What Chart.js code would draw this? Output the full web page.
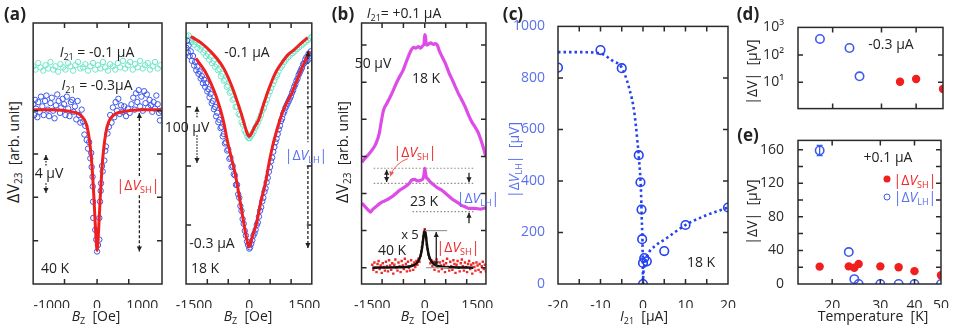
<!DOCTYPE html>
<html><head><meta charset="utf-8">
<script src="https://cdn.jsdelivr.net/npm/chart.js@4.4.0/dist/chart.umd.min.js"></script>
<style>
html,body{margin:0;padding:0;background:#fff;}
#fig{position:relative;width:954px;height:326px;overflow:hidden;font-family:'Open Sans',sans-serif;color:#222;}
canvas{position:absolute;}
.t{position:absolute;white-space:nowrap;transform:translate(-50%,-50%);font-size:14px;line-height:1;z-index:5;}
.t sub{font-size:9px;vertical-align:-3px;line-height:0;}
.b{font-weight:bold;font-size:17px;}
.red{color:#f02828}.lb{color:#5a70f2}
.rot{transform:translate(-50%,-50%) rotate(-90deg);}
.dot{position:absolute;width:7px;height:7px;border-radius:50%;transform:translate(-50%,-50%);z-index:5;box-sizing:border-box;}
</style></head><body><div id="fig"></div>
<script>
// ---------- DATA ----------
// (a) left, 40 K : B [Oe], V [uV]
const a1Cyan = [[-1410,20.1],[-1360,19.8],[-1300,20.4],[-1250,20.0],[-1190,19.7],[-1140,20.2],[-1080,19.9],[-1030,20.5],[-970,19.8],[-920,20.1],[-860,19.6],[-810,20.3],[-750,20.0],[-700,19.8],[-640,20.4],[-590,20.1],[-530,19.7],[-480,20.2],[-420,20.5],[-370,19.9],[-310,20.0],[-260,20.3],[-200,19.7],[-150,20.1],[-90,20.4],[-40,19.8],[20,20.2],[70,19.9],[130,20.5],[180,20.0],[240,19.7],[290,20.3],[350,20.1],[400,19.8],[460,20.4],[510,20.0],[570,20.6],[620,19.9],[680,20.2],[730,20.5],[790,19.8],[840,20.3],[900,20.0],[950,20.6],[1010,19.9],[1060,20.2],[1120,20.4],[1170,19.8],[1230,20.1],[1280,20.5],[1340,19.9],[1400,20.2]];
const a1Blue = [[-1410,16.6],[-1390,15.6],[-1370,17.0],[-1350,16.2],[-1320,15.4],[-1300,16.8],[-1270,15.9],[-1240,17.3],[-1210,16.4],[-1180,15.6],[-1150,16.9],[-1120,17.4],[-1090,16.1],[-1060,15.5],[-1030,16.7],[-1000,17.2],[-970,16.0],[-940,15.3],[-910,16.5],[-880,17.5],[-850,16.9],[-820,15.8],[-790,16.3],[-760,17.1],[-730,16.6],[-700,15.6],[-670,17.3],[-640,16.2],[-610,15.5],[-580,16.8],[-550,17.0],[-520,15.9],[-490,16.4],[-460,15.2],[-430,16.9],[-400,15.6],[-370,14.9],[-340,16.1],[-310,15.0],[-280,13.8],[-260,14.6],[-230,13.3],[-200,12.5],[-175,13.1],[-150,11.6],[-130,12.1],[-120,10.8],[-100,9.9],[-95,9.0],[-90,7.6],[-85,6.1],[-40,5.0],[-20,4.1],[0,3.0],[20,3.6],[50,4.1],[50,6.1],[65,7.6],[80,8.6],[87,9.3],[110,10.9],[124,10.4],[160,11.4],[180,12.3],[196,12.7],[230,13.9],[260,14.5],[290,15.6],[320,14.9],[350,16.3],[380,15.4],[410,16.8],[440,16.0],[470,17.1],[500,15.7],[530,16.5],[560,15.9],[600,16.4],[640,15.5],[680,16.2],[720,15.8],[760,16.6],[800,17.2],[830,16.1],[860,17.6],[890,16.8],[920,17.9],[950,16.4],[980,17.3],[1010,16.0],[1040,17.8],[1070,16.7],[1100,17.5],[1130,16.3],[1160,17.0],[1190,16.5],[1220,15.9],[1250,16.8],[1280,16.2],[1310,17.4],[1340,16.6],[1370,15.8],[1390,15.1],[1410,16.0]];
const a1Fit = [[-1420,16.1],[-1000,16.08],[-700,16.0],[-500,15.85],[-400,15.7],[-320,15.4],[-260,15.0],[-210,14.3],[-170,13.3],[-130,11.8],[-100,10.1],[-70,8.0],[-45,5.9],[-25,4.3],[-10,3.4],[0,3.1],[10,3.4],[25,4.3],[45,5.9],[70,8.0],[100,10.1],[130,11.8],[170,13.3],[210,14.3],[260,15.0],[320,15.4],[400,15.7],[500,15.85],[700,16.0],[1000,16.08],[1420,16.1]];

// (a) right, 18 K
const a2Cyan = [[-1710,420],[-1680,412],[-1650,421],[-1610,413],[-1570,409],[-1530,415],[-1490,405],[-1450,410],[-1410,400],[-1370,406],[-1330,397],[-1290,402],[-1250,392],[-1210,396],[-1170,386],[-1130,390],[-1090,380],[-1050,385],[-1010,374],[-970,378],[-930,368],[-890,372],[-850,362],[-810,364],[-770,352],[-730,356],[-690,344],[-650,346],[-610,334],[-570,336],[-530,324],[-490,326],[-450,312],[-410,314],[-370,300],[-330,300],[-290,288],[-250,286],[-210,274],[-170,270],[-130,260],[-90,256],[-50,250],[-20,247],[10,247],[40,250],[80,254],[120,258],[160,264],[200,268],[240,274],[280,280],[320,286],[360,294],[400,298],[440,306],[480,312],[520,320],[560,326],[600,332],[640,338],[680,344],[720,350],[760,354],[800,360],[850,366],[900,370],[950,376],[1000,380],[1060,384],[1120,388],[1180,391],[1240,394],[1300,398],[1360,401],[1420,404],[1480,407],[1540,410],[1600,413],[1660,416],[1710,419]];
const a2Blue = [[-1710,400],[-1690,412],[-1670,392],[-1650,404],[-1620,386],[-1590,394],[-1560,378],[-1530,386],[-1500,370],[-1470,376],[-1440,362],[-1410,368],[-1380,356],[-1350,360],[-1320,348],[-1290,352],[-1260,340],[-1230,346],[-1200,334],[-1170,340],[-1140,326],[-1110,330],[-1080,316],[-1050,322],[-1020,306],[-990,310],[-960,296],[-930,300],[-900,284],[-870,290],[-840,274],[-810,278],[-780,264],[-750,266],[-720,250],[-690,254],[-660,238],[-630,240],[-600,226],[-570,228],[-540,212],[-510,214],[-480,198],[-450,200],[-420,186],[-390,184],[-360,168],[-330,168],[-300,152],[-270,146],[-240,132],[-210,124],[-180,110],[-150,102],[-120,90],[-90,82],[-60,72],[-30,66],[0,60],[25,62],[55,68],[85,74],[115,82],[145,86],[175,92],[205,100],[235,104],[265,114],[295,124],[325,130],[355,140],[385,146],[415,156],[445,162],[475,172],[505,180],[535,190],[565,198],[595,208],[625,214],[655,224],[685,232],[715,240],[745,246],[775,254],[805,262],[835,268],[865,276],[895,280],[925,288],[955,292],[985,298],[1015,302],[1045,306],[1075,310],[1105,314],[1135,318],[1165,324],[1195,328],[1225,334],[1255,338],[1285,344],[1315,348],[1345,354],[1375,358],[1405,362],[1435,366],[1465,372],[1495,374],[1525,380],[1555,384],[1585,378],[1615,390],[1645,382],[1675,394],[1705,386]];
const a2FitCyan = [[-1590,419],[-1300,408],[-1053,394],[-880,382],[-700,366],[-560,348],[-437,329],[-320,308],[-218,289],[-130,270],[-60,256],[0,250],[60,255],[130,264],[263,279],[400,306],[526,329],[700,356],[879,374],[1050,388],[1229,397],[1400,407],[1590,417]];
const a2FitBlue = [[-1450,382],[-1200,360],[-1036,339],[-900,318],[-773,293],[-680,270],[-597,243],[-490,215],[-379,186],[-270,148],[-158,107],[-80,80],[-30,66],[0,63],[30,66],[80,79],[192,101],[320,140],[455,175],[540,205],[631,232],[760,262],[900,290],[1030,308],[1157,323],[1300,345],[1450,368],[1638,394]];

// (b) I21 = +0.1 uA
const b18K = [[-1800,142],[-1700,148],[-1600,153],[-1500,159],[-1400,167],[-1300,181],[-1250,195],[-1180,212],[-1100,220],[-1000,229],[-900,239],[-800,250],[-700,259],[-620,266],[-540,276],[-450,287],[-380,294],[-320,297],[-250,296],[-180,298],[-120,296],[-60,299],[-20,302],[0,314],[20,312],[50,300],[100,301],[170,303],[240,301],[300,302],[359,300],[420,292],[500,284],[594,275],[700,262],[800,252],[874,244],[950,236],[1050,227],[1154,217],[1250,206],[1340,197],[1434,190],[1520,183],[1600,173],[1700,158],[1750,149]];
const b23K = [[-1800,87],[-1700,82],[-1600,77],[-1555,75],[-1500,78],[-1400,82],[-1300,86],[-1200,89],[-1100,91],[-995,94],[-900,97],[-800,101],[-700,105],[-600,108],[-500,111],[-434,114],[-380,118],[-300,119],[-200,117],[-106,118],[-50,120],[-20,126],[0,134],[20,128],[50,121],[78,120],[150,116],[250,112],[350,108],[499,104],[600,100],[700,96],[800,92],[900,89],[966,87],[1050,84],[1154,82],[1250,80],[1434,80],[1600,79],[1700,80],[1750,81]];
const b40K = [[-1500,4],[-1470,-3],[-1440,7],[-1410,0],[-1380,-6],[-1350,5],[-1320,9],[-1290,-2],[-1260,3],[-1230,-7],[-1200,6],[-1170,1],[-1140,-4],[-1110,8],[-1080,2],[-1050,-5],[-1020,10],[-990,3],[-960,-3],[-930,6],[-900,-8],[-870,4],[-840,11],[-810,0],[-780,-4],[-750,7],[-720,2],[-690,-6],[-660,9],[-630,3],[-600,-2],[-570,12],[-540,5],[-510,-5],[-480,8],[-450,0],[-420,-4],[-390,10],[-360,4],[-330,-3],[-300,7],[-270,1],[-240,9],[-210,4],[-180,12],[-150,8],[-120,16],[-100,22],[-80,28],[-60,34],[-40,42],[-20,48],[0,52],[20,46],[40,40],[60,31],[80,25],[100,18],[130,13],[160,6],[190,10],[220,2],[250,8],[280,-3],[310,6],[340,11],[370,1],[400,-5],[430,7],[460,3],[490,-2],[520,9],[550,4],[580,-6],[610,6],[640,12],[670,1],[700,-4],[730,8],[760,2],[790,-3],[820,10],[850,5],[880,-7],[910,4],[940,9],[970,0],[1000,-5],[1030,6],[1060,11],[1090,2],[1120,-4],[1150,7],[1180,1],[1210,-6],[1240,5],[1270,9],[1300,-2],[1330,4],[1360,-8],[1390,6],[1420,1],[1450,-4],[1480,7],[1510,3],[1540,-3],[1570,5],[1600,-6],[1630,2],[1660,8],[1690,-2],[1720,4],[1750,-5]];
const b40KFit = [[-1500,0],[-800,0.5],[-400,2],[-250,5],[-150,12],[-100,20],[-60,32],[-30,44],[0,50],[30,44],[60,32],[100,20],[150,12],[250,5],[400,2],[800,0.5],[1390,0]];

// (c) |dV_LH| vs I21 at 18 K
const cPts = [[-20,840],[-10,908],[-5,838],[-1,500],[-0.6,395],[-0.35,289],[-0.2,174],[0.3,101],[0,82],[0.9,88],[0,0],[5,128],[10,229],[20,297]];
const cFitNeg = [[-20,900],[-15,900],[-10,895],[-7.1,866],[-5,840],[-3.2,757],[-2.06,668],[-1.3,552],[-0.9,476],[-0.5,373],[-0.3,258],[-0.1,143],[0,0]];
const cFitPos = [[0,0],[0.05,28],[0.4,79],[1.0,111],[3.0,150],[5.3,175],[10,229],[14.6,265],[20,297]];

// (d) -0.3 uA, (e) +0.1 uA : temperature [K]
const dLH = [[18,380],[23,178],[25,16.6]];
const dSH = [[35,10.5],[40,13.2],[50,5.7]];
const eSH = [[18,20.7],[23,21],[24.1,19.3],[25,23.9],[30,21],[35,20],[40,15.3],[50,10.4]];
const eLH = [[18,159],[23,38],[24.1,5.8],[25,0],[30,0],[35,0],[40,0],[50,0]];
const eLHerr = [[18,153,165]];

// tick labels
const tA1 = [-1000,0,1000], tA2 = [-1500,0,1500], tC_x = [-20,-10,0,10,20], tC_y = [0,200,400,600,800,1000];
const tT = [20,30,40,50], tD_y = [10,100,1000], tE_y = [0,40,80,120,160];

// ---------- helpers ----------
const BLUE='rgb(62,88,236)', CYAN='rgb(112,230,200)', RED='rgb(240,32,32)', MAG='rgb(222,76,232)', CBLUE='rgb(36,66,240)';
Chart.defaults.font.family="'Open Sans', sans-serif";
const fig=document.getElementById('fig');
const P=a=>a.map(([x,y])=>({x,y}));
function openC(arr,col,r,bw){return {data:P(arr),pointStyle:'circle',pointRadius:r,pointBorderWidth:bw||1,pointBorderColor:col,pointBackgroundColor:'rgba(0,0,0,0)',showLine:false};}
function fillC(arr,col,r,style){return {data:P(arr),pointStyle:style||'circle',pointRadius:r,pointBorderWidth:0,pointBorderColor:col,pointBackgroundColor:col,showLine:false};}
function ln(arr,col,w,dash){return {data:P(arr),showLine:true,borderColor:col,borderWidth:w,pointRadius:0,borderDash:dash||[],cubicInterpolationMode:'monotone',fill:false};}
function sc(type,min,max,ticks,o){o=o||{};return {type,min,max,grid:{display:false},border:{display:false},
  afterBuildTicks:s=>{s.ticks=ticks.map(v=>({value:v}));},
  ticks:{display:o.show!==false,color:o.color||'#2a2a2a',font:{size:14},padding:o.pad||6,maxRotation:0,autoSkip:false,callback:o.cb||(v=>String(v))}};}
function head(ctx,x,y,dir){ctx.beginPath();ctx.moveTo(x,y);ctx.lineTo(x-2.6,y-dir*5);ctx.lineTo(x+2.6,y-dir*5);ctx.closePath();ctx.fill();}
function headA(ctx,x,y,a){ctx.save();ctx.translate(x,y);ctx.rotate(a);ctx.beginPath();ctx.moveTo(0,0);ctx.lineTo(-5,-2.5);ctx.lineTo(-5,2.5);ctx.closePath();ctx.fill();ctx.restore();}
function drawAnn(ch,items){const ctx=ch.ctx,x=ch.scales.x,y=ch.scales.y;
 items.forEach(it=>{ctx.save();ctx.strokeStyle=ctx.fillStyle=it.c||'#222';ctx.lineWidth=it.w||1.3;ctx.setLineDash(it.d||[]);
  if(it.k==='v'){const px=x.getPixelForValue(it.x),a=y.getPixelForValue(it.y1),b=y.getPixelForValue(it.y2);
    ctx.beginPath();ctx.moveTo(px,a);ctx.lineTo(px,b);ctx.stroke();ctx.setLineDash([]);
    if(it.h1)head(ctx,px,a,Math.sign(a-b));if(it.h2)head(ctx,px,b,Math.sign(b-a));}
  else if(it.k==='h'){const py=y.getPixelForValue(it.y),a=x.getPixelForValue(it.x1),b=x.getPixelForValue(it.x2);ctx.beginPath();ctx.moveTo(a,py);ctx.lineTo(b,py);ctx.stroke();}
  else if(it.k==='q'){const p=it.p.map(([u,v])=>[x.getPixelForValue(u),y.getPixelForValue(v)]);ctx.beginPath();ctx.moveTo(p[0][0],p[0][1]);ctx.quadraticCurveTo(p[1][0],p[1][1],p[2][0],p[2][1]);ctx.stroke();ctx.setLineDash([]);headA(ctx,p[2][0],p[2][1],Math.atan2(p[2][1]-p[1][1],p[2][0]-p[1][0]));}
  else if(it.k==='e'){const px=x.getPixelForValue(it.x),a=y.getPixelForValue(it.y1),b=y.getPixelForValue(it.y2);ctx.beginPath();ctx.moveTo(px,a);ctx.lineTo(px,b);ctx.moveTo(px-3,a);ctx.lineTo(px+3,a);ctx.moveTo(px-3,b);ctx.lineTo(px+3,b);ctx.stroke();}
  ctx.restore();});}
function drawFrame(ch,fr){const ctx=ch.ctx,a=ch.chartArea,L=5;ctx.save();ctx.strokeStyle='#2a2a2a';ctx.lineWidth=1.5;ctx.setLineDash([]);
  ctx.strokeRect(a.left,a.top,a.right-a.left,a.bottom-a.top);ctx.beginPath();
  (fr.xt||[]).forEach(v=>{const p=ch.scales.x.getPixelForValue(v);ctx.moveTo(p,a.bottom);ctx.lineTo(p,a.bottom-L);ctx.moveTo(p,a.top);ctx.lineTo(p,a.top+L);});
  (fr.yt||[]).forEach(v=>{const p=ch.scales.y.getPixelForValue(v);ctx.moveTo(a.left,p);ctx.lineTo(a.left+L,p);ctx.moveTo(a.right,p);ctx.lineTo(a.right-L,p);});
  ctx.stroke();ctx.restore();}
function mk(box,pad,datasets,sx,sy,fr,ann){
  const [L,T,R,B]=box,[pl,pt,pr,pb]=pad,w=R-L+pl+pr,h=B-T+pt+pb;
  const c=document.createElement('canvas');c.width=w;c.height=h;c.style.left=(L-pl)+'px';c.style.top=(T-pt)+'px';c.style.width=w+'px';c.style.height=h+'px';fig.appendChild(c);
  sx.afterFit=s=>{s.height=pb;};sy.afterFit=s=>{s.width=pl;};
  return new Chart(c,{type:'scatter',data:{datasets},options:{responsive:false,animation:false,devicePixelRatio:1,
    layout:{padding:{left:0,top:pt,right:pr,bottom:0},autoPadding:false},
    plugins:{legend:{display:false},tooltip:{enabled:false}},scales:{x:sx,y:sy}},
    plugins:[{id:'deco',afterDatasetsDraw(ch){drawAnn(ch,ann||[]);},afterDraw(ch){drawFrame(ch,fr||{});}}]});
}
function T(html,cx,cy,cls,style){const d=document.createElement('div');d.className='t '+(cls||'');d.innerHTML=html;d.style.left=cx+'px';d.style.top=cy+'px';if(style)d.style.cssText+=style;fig.appendChild(d);return d;}

// ---------- charts ----------
// (a) left
mk([31,23,162,284],[4,8,6,24],
  [ln(a1Fit,RED,3),openC(a1Blue,BLUE,2.7),openC(a1Cyan,CYAN,2.7)],
  sc('linear',-1413,1435,tA1),sc('linear',0,24.1,[],{show:false}),
  {xt:[-720,0,700],yt:[4,8,12,16]},
  [{k:'v',x:-1130,y1:11.9,y2:10.9,d:[1.5,1.5],h1:1},{k:'v',x:-1130,y1:9.3,y2:8.4,d:[1.5,1.5],h2:1},
   {k:'v',x:935,y1:15.8,y2:9.9,d:[3,2],h1:1},{k:'v',x:935,y1:8.2,y2:3.0,d:[3,2],h2:1}]);
// (a) right
mk([183,23,313,284],[14,8,14,24],
  [ln(a2FitBlue,RED,3),ln(a2FitCyan,RED,3),openC(a2Blue,BLUE,2.7),openC(a2Cyan,CYAN,2.7)],
  sc('linear',-1718,1703,tA2),sc('linear',0,442,[],{show:false}),
  {xt:[-1140,-570,0,570,1140],yt:[100,200,300]},
  [{k:'v',x:-1421,y1:300,y2:282,d:[1.5,1.5],h1:1},{k:'v',x:-1421,y1:252,y2:205,d:[1.5,1.5],h2:1},
   {k:'v',x:1597,y1:394,y2:240,d:[3,2],h1:1},{k:'v',x:1597,y1:200,y2:61,d:[3,2],h2:1}]);
// (b)
mk([361,23,488,284],[14,8,12,24],
  [ln(b40KFit,'#111',2.5),fillC(b40K,'rgb(240,40,40)',1.7,'rect'),ln(b18K,MAG,3.2),ln(b23K,MAG,3.2)],
  sc('linear',-1807,1751,tA2),sc('linear',-22,329.8,[],{show:false}),
  {xt:[-1220,-610,0,600,1200],yt:[0,50,100,150,200,250,300]},
  [{k:'h',y:134,x1:-1460,x2:1390,d:[1.5,2],c:'#8a8a8a',w:1.2},{k:'h',y:113.7,x1:-1460,x2:1390,d:[1.5,2],c:'#8a8a8a',w:1.2},
   {k:'h',y:75.5,x1:-350,x2:1390,d:[1.5,2],c:'#8a8a8a',w:1.2},
   {k:'v',x:-1090,y1:132,y2:115.5,h1:1,h2:1},{k:'v',x:1266,y1:128,y2:115,h2:1},{k:'v',x:1266,y1:60,y2:74,h2:1},
   {k:'h',y:50,x1:0,x2:640,c:'#999',w:1.2},{k:'h',y:0,x1:40,x2:680,c:'#999',w:1.2},
   {k:'v',x:330,y1:2,y2:48,h1:1,h2:1},
   {k:'q',p:[[-482,147],[-854,141],[-990,123]],c:'rgb(240,90,90)',w:1}]);
// (c)
mk([558,23,730,284],[45,10,12,24],
  [openC(cPts,CBLUE,4.3,1.6),ln(cFitNeg,CBLUE,2.6,[2.5,3]),ln(cFitPos,CBLUE,2.6,[2.5,3])],
  sc('linear',-20,20,tC_x),sc('linear',0,1000,tC_y,{color:'rgb(90,112,242)',pad:5}),
  {xt:[-15,-10,-5,0,5,10,15],yt:[200,400,600,800]},[]);
// (d)
const sup={1:'10⁰',10:'10¹',100:'10²',1000:'10³'};
mk([798,23,943,119],[40,10,12,4],
  [fillC(dSH,'rgb(240,30,30)',4.2),openC(dLH,'rgb(60,90,240)',4.2,1.6)],
  sc('logarithmic',15,50,tT,{show:false}),sc('logarithmic',1.11,1000,tD_y,{cb:v=>sup[v]||''}),
  {xt:[20,30,40],yt:[10,100]},[]);
// (e)
mk([798,136,943,284],[40,10,12,24],
  [fillC(eSH,'rgb(240,30,30)',4.2),openC(eLH,'rgb(60,90,240)',4.2,1.6)],
  sc('logarithmic',15,50,tT),sc('linear',0,171,tE_y),
  {xt:[20,30,40],yt:[20,40,60,80,100,120,140,160]},
  [{k:'e',x:18,y1:eLHerr[0][1],y2:eLHerr[0][2],c:'rgb(60,90,240)',w:1.3}]);

// ---------- text ----------
const IV=s=>`|Δ<i>V</i><sub>${s}</sub>|`;
const BZ='<i>B</i><sub>Z</sub>&nbsp;&nbsp;[Oe]';
const YT='<span style="font-size:16px">ΔV</span><sub style="font-size:10px">23</sub>&nbsp;&nbsp;[arb. unit]';
T('(a)',15,13,'b');T('(b)',343,13,'b');T('(c)',513,13,'b');T('(d)',748,13,'b');T('(e)',748,134,'b');
T(YT,13,152,'rot');T(BZ,96,316);
T('<i>I</i><sub>21</sub> = -0.1 μA',97,52);T('<i>I</i><sub>21</sub> = -0.3μA',97,85);
T('4 μV',49,173);T(IV('SH'),138,185,'red');T('40 K',55,268);
T(BZ,248,316);T('-0.1 μA',247,52);T('-0.3 μA',212,243);T('18 K',205,268);T('100 μV',187,127);T(IV('LH'),306,155,'lb');
T(YT,342,152,'rot');T(BZ,425,316);T('<i>I</i><sub>21</sub>= +0.1 μA',404,13);
T('50 μV',373,63);T('18 K',426,78);T(IV('SH'),415,152,'red');T('23 K',424,201);T(IV('LH'),478,198,'lb');
T('x 5',410,234,'','font-size:13px');T('40 K',392,250);T(IV('SH'),458,247,'red');
T(IV('LH')+'&nbsp;&nbsp;[μV]',514,160,'rot lb');T('<i>I</i><sub>21</sub>&nbsp;&nbsp;[μA]',644,316);T('18 K',701,262);
T('|ΔV|&nbsp;&nbsp;[μV]',752,72,'rot');T('-0.3 μA',891,44);
T('|ΔV|&nbsp;&nbsp;[μV]',752,212,'rot');T('Temperature&nbsp;&nbsp;[K]',873,316);
T('+0.1 μA',888,157);T(IV('SH'),915,180,'red');T(IV('LH'),915,197,'lb');
const d1=document.createElement('div');d1.className='dot';d1.style.cssText+='left:887px;top:179px;background:rgb(240,30,30);';fig.appendChild(d1);
const d2=document.createElement('div');d2.className='dot';d2.style.cssText+='left:887px;top:197px;border:1.5px solid rgb(60,90,240);';fig.appendChild(d2);
</script></body></html>
